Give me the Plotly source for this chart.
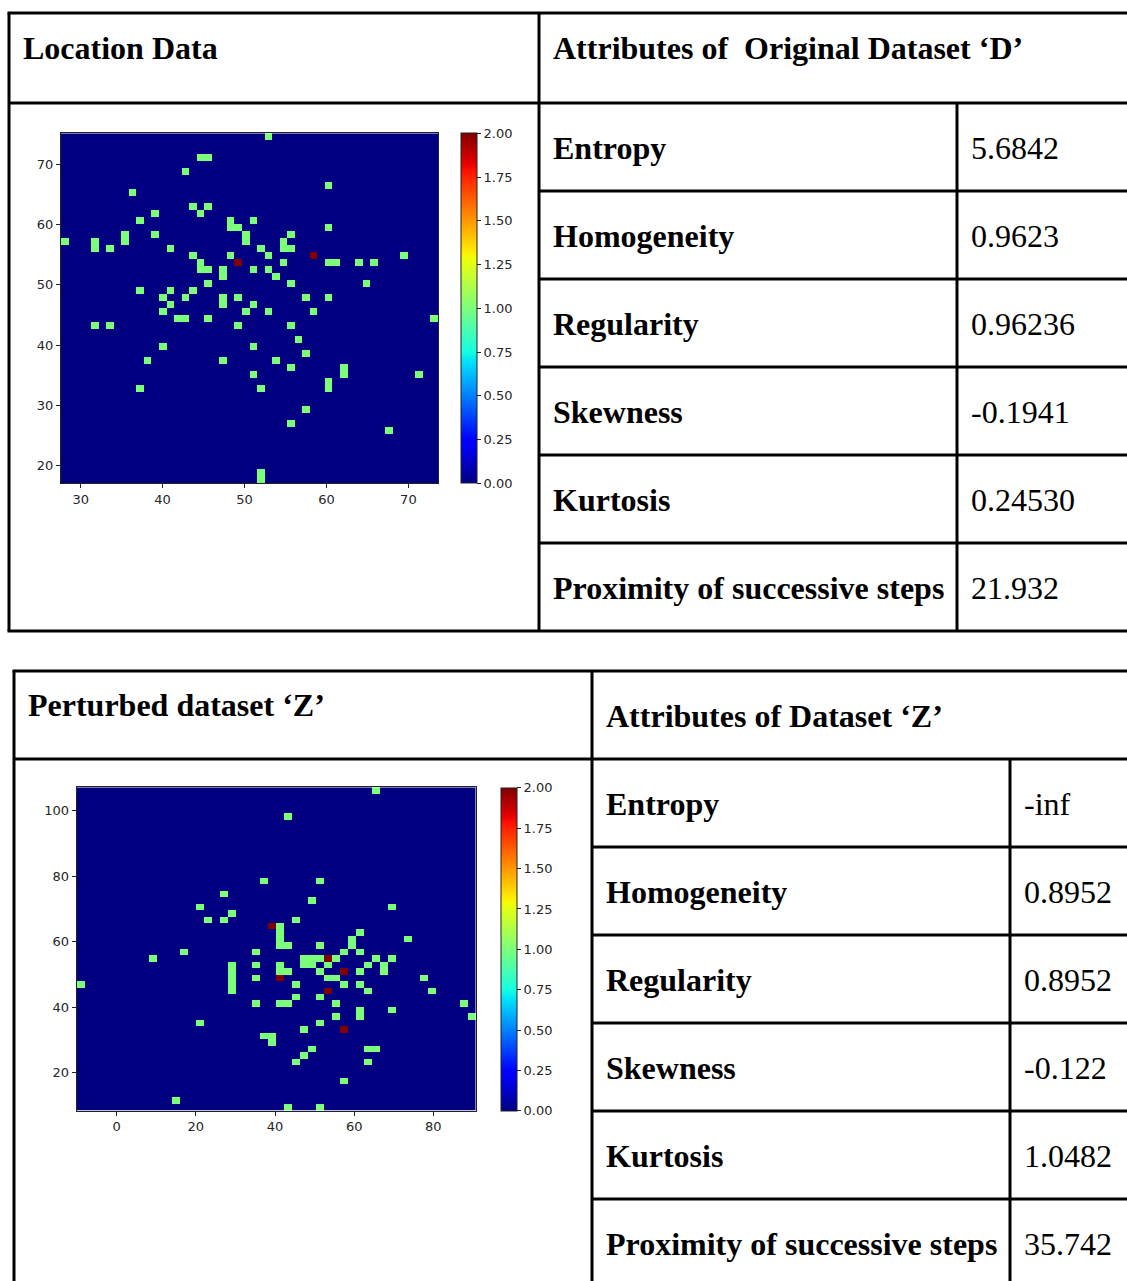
import numpy as np
import plotly.graph_objects as go

W, H = 1127, 1281

# ---------------- data ----------------
NBINS = 50
# original dataset D : histogram extent (x0, x1), (y0, y1)
D_xlim = (27.6, 73.65)
D_ylim = (17.07, 75.1)
# occupied bins: (column from left, row from top, count)
D_cells = [
    (27, 0, 1), (18, 3, 1), (19, 3, 1), (16, 5, 1), (35, 7, 1), (9, 8, 1),
    (17, 10, 1), (19, 10, 1), (18, 11, 1), (12, 11, 1),
    (10, 12, 1), (22, 12, 1), (25, 12, 1),
    (22, 13, 1), (23, 13, 1), (35, 13, 1),
    (24, 14, 1), (12, 14, 1), (8, 14, 1), (30, 14, 1),
    (24, 15, 1), (0, 15, 1), (8, 15, 1), (4, 15, 1), (29, 15, 1),
    (4, 16, 1), (6, 16, 1), (14, 16, 1), (29, 16, 1), (30, 16, 1), (26, 16, 1),
    (17, 17, 1), (22, 17, 1), (27, 17, 1), (33, 17, 2), (45, 17, 1),
    (23, 18, 2), (18, 18, 1), (29, 18, 1), (35, 18, 1), (36, 18, 1), (39, 18, 1), (41, 18, 1),
    (18, 19, 1), (19, 19, 1), (21, 19, 1), (25, 19, 1), (27, 19, 1),
    (21, 20, 1), (28, 20, 1),
    (19, 21, 1), (30, 21, 1), (40, 21, 1),
    (10, 22, 1), (14, 22, 1), (17, 22, 1),
    (13, 23, 1), (16, 23, 1), (21, 23, 1), (23, 23, 1), (32, 23, 1), (35, 23, 1),
    (14, 24, 1), (21, 24, 1), (25, 24, 1),
    (13, 25, 1), (24, 25, 1), (27, 25, 1), (33, 25, 1),
    (15, 26, 1), (16, 26, 1), (19, 26, 1), (49, 26, 1),
    (4, 27, 1), (6, 27, 1), (23, 27, 1), (30, 27, 1),
    (31, 29, 1), (13, 30, 1), (25, 30, 1), (32, 31, 1),
    (11, 32, 1), (21, 32, 1), (28, 32, 1),
    (30, 33, 1), (37, 33, 1), (37, 34, 1), (25, 34, 1), (47, 34, 1),
    (35, 35, 1), (35, 36, 1), (26, 36, 1), (10, 36, 1),
    (32, 39, 1), (30, 41, 1), (43, 42, 1), (26, 48, 1), (26, 49, 1),
]

# perturbed dataset Z
Z_xlim = (-10.1, 90.7)
Z_ylim = (8.35, 107.1)
Z_cells = [
    (37, 0, 1), (26, 4, 1), (23, 14, 1), (30, 14, 1), (18, 16, 1), (29, 17, 1),
    (15, 18, 1), (39, 18, 1), (19, 19, 1),
    (16, 20, 1), (18, 20, 1), (27, 20, 1),
    (24, 21, 2), (25, 21, 1), (25, 22, 1), (35, 22, 1),
    (25, 23, 1), (34, 23, 1), (41, 23, 1),
    (25, 24, 1), (26, 24, 1), (30, 24, 1), (34, 24, 1),
    (13, 25, 1), (22, 25, 1), (33, 25, 1), (35, 25, 1),
    (9, 26, 1), (28, 26, 1), (29, 26, 1), (30, 26, 1), (31, 26, 2), (32, 26, 1), (37, 26, 1), (39, 26, 1),
    (19, 27, 1), (19, 28, 1), (19, 29, 1), (19, 30, 1), (19, 31, 1),
    (22, 27, 1), (25, 27, 1), (28, 27, 1), (29, 27, 1), (31, 27, 1), (36, 27, 1), (38, 27, 1),
    (25, 28, 1), (26, 28, 1), (30, 28, 1), (33, 28, 2), (35, 28, 1), (38, 28, 1),
    (22, 29, 1), (25, 29, 2), (31, 29, 1), (32, 29, 1), (43, 29, 1),
    (0, 30, 1), (27, 30, 1), (33, 30, 1), (35, 30, 1),
    (31, 31, 2), (36, 31, 1), (44, 31, 1),
    (27, 32, 1), (30, 32, 1),
    (22, 33, 1), (25, 33, 1), (26, 33, 1), (32, 33, 1), (48, 33, 1),
    (35, 34, 1), (39, 34, 1), (35, 35, 1), (32, 35, 1), (49, 35, 1),
    (15, 36, 1), (30, 36, 1), (28, 37, 1), (33, 37, 2),
    (23, 38, 1), (24, 38, 1), (24, 39, 1),
    (29, 40, 1), (36, 40, 1), (37, 40, 1),
    (28, 41, 1), (27, 42, 1), (36, 42, 1), (33, 45, 1),
    (12, 48, 1), (26, 49, 1), (30, 49, 1),
]

D_x_ticks = [30, 40, 50, 60, 70]
D_y_ticks = [20, 30, 40, 50, 60, 70]
Z_x_ticks = [0, 20, 40, 60, 80]
Z_y_ticks = [20, 40, 60, 80, 100]
cbar_ticks = [0.0, 0.25, 0.5, 0.75, 1.0, 1.25, 1.5, 1.75, 2.0]

D_header_left = "Location Data"
D_header_right = "Attributes of \u00a0Original Dataset \u2018D\u2019"
Z_header_left = "Perturbed dataset \u2018Z\u2019"
Z_header_right = "Attributes of Dataset \u2018Z\u2019"
attr_names = ["Entropy", "Homogeneity", "Regularity", "Skewness", "Kurtosis",
              "Proximity of successive steps"]
D_values = ["5.6842", "0.9623", "0.96236", "-0.1941", "0.24530", "21.932"]
Z_values = ["-inf", "0.8952", "0.8952", "-0.122", "1.0482", "35.742"]


# ---------------- helpers ----------------
def px(x):
    return x / W


def py(y):
    return 1 - y / H


def jet_scale(n=65):
    t = np.linspace(0, 1, n)
    r = np.interp(t, [0, 0.35, 0.66, 0.89, 1], [0, 0, 1, 1, 0.5])
    g = np.interp(t, [0, 0.125, 0.375, 0.64, 0.91, 1], [0, 0, 1, 1, 0, 0])
    b = np.interp(t, [0, 0.11, 0.34, 0.65, 1], [0.5, 1, 1, 0, 0])
    return [[float(ti), f"rgb({int(round(ri*255))},{int(round(gi*255))},{int(round(bi*255))})"]
            for ti, ri, gi, bi in zip(t, r, g, b)]


JET = jet_scale()


def grid(cells, xlim, ylim):
    z = np.zeros((NBINS, NBINS))
    for c, r, v in cells:
        z[NBINS - 1 - r, c] = v
    dx = (xlim[1] - xlim[0]) / NBINS
    dy = (ylim[1] - ylim[0]) / NBINS
    xs = xlim[0] + dx * (np.arange(NBINS) + 0.5)
    ys = ylim[0] + dy * (np.arange(NBINS) + 0.5)
    return xs, ys, z


fig = go.Figure()

tickfont = dict(family="DejaVu Sans", size=13, color="#262626")


def add_map(cells, xlim, ylim, xa, ya, cb_x, cb_top, cb_bot, cb_w):
    xs, ys, z = grid(cells, xlim, ylim)
    fig.add_trace(go.Heatmap(
        x=xs, y=ys, z=z, zmin=0, zmax=2, colorscale=JET,
        xaxis=xa, yaxis=ya, hoverinfo="skip",
        colorbar=dict(
            x=px(cb_x), xanchor="left", xpad=0, ypad=0,
            y=py((cb_top + cb_bot) / 2), yanchor="middle",
            len=(cb_bot - cb_top) / H, lenmode="fraction",
            thickness=cb_w, outlinewidth=1, outlinecolor="#222",
            tickvals=cbar_ticks, ticktext=[f"{v:.2f}" for v in cbar_ticks],
            ticks="outside", ticklen=4, tickcolor="#222", tickfont=tickfont,
        ),
    ))


add_map(D_cells, D_xlim, D_ylim, "x", "y", 460.7, 133.3, 483.3, 15.5)
add_map(Z_cells, Z_xlim, Z_ylim, "x2", "y2", 500.7, 788.0, 1110.7, 16)

axis_style = dict(showline=True, mirror=True, linecolor="#222", linewidth=1,
                  ticks="outside", ticklen=4, tickcolor="#222", tickfont=tickfont,
                  showgrid=False, zeroline=False)

fig.update_layout(
    width=W, height=H, margin=dict(l=0, r=0, t=0, b=0),
    paper_bgcolor="white", plot_bgcolor="white", showlegend=False,
    xaxis=dict(domain=[px(61), px(438.3)], range=list(D_xlim), tickvals=D_x_ticks,
               anchor="y", **axis_style),
    yaxis=dict(domain=[py(483.3), py(133.3)], range=list(D_ylim), tickvals=D_y_ticks,
               anchor="x", **axis_style),
    xaxis2=dict(domain=[px(76.7), px(475.7)], range=list(Z_xlim), tickvals=Z_x_ticks,
                anchor="y2", **axis_style),
    yaxis2=dict(domain=[py(1110.7), py(787.3)], range=list(Z_ylim), tickvals=Z_y_ticks,
                anchor="x2", **axis_style),
)

# ---------------- tables ----------------
shapes = []


def hline(y, x0, x1):
    shapes.append(dict(type="line", xref="paper", yref="paper", x0=px(x0), x1=px(x1),
                       y0=py(y), y1=py(y), line=dict(color="black", width=3)))


def vline(x, y0, y1):
    shapes.append(dict(type="line", xref="paper", yref="paper", x0=px(x), x1=px(x),
                       y0=py(y0), y1=py(y1), line=dict(color="black", width=3)))


RIGHT = W + 10
# top table
t_top, t_head, t_bot = 13, 103, 631
t_left, t_mid, t_val = 9, 539, 957
hline(t_top, t_left - 1.5, RIGHT)
hline(t_head, t_left, RIGHT)
hline(t_bot, t_left - 1.5, RIGHT)
vline(t_left, t_top, t_bot)
vline(t_mid, t_top, t_bot)
vline(t_val, t_head, t_bot)
row_h = (t_bot - t_head) / 6
for i in range(1, 6):
    hline(t_head + i * row_h, t_mid, RIGHT)

# bottom table
b_top, b_head = 671, 759
b_left, b_mid, b_val = 14, 592, 1010
hline(b_top, b_left - 1.5, RIGHT)
hline(b_head, b_left, RIGHT)
vline(b_left, b_top, H + 10)
vline(b_mid, b_top, H + 10)
vline(b_val, b_head, H + 10)
for i in range(1, 6):
    hline(b_head + i * row_h, b_mid, RIGHT)

fig.update_layout(shapes=shapes)

annots = []
SERIF = "Liberation Serif"
FS = 32


def text(s, x, y, bold=True):
    annots.append(dict(text=(f"<b>{s}</b>" if bold else s), x=px(x - 2), y=py(y),
                       xref="paper", yref="paper", xanchor="left", yanchor="middle",
                       showarrow=False, font=dict(family=SERIF, size=FS, color="black")))


text(D_header_left, 23, 48)
text(D_header_right, 553, 48)
for i, (n, v) in enumerate(zip(attr_names, D_values)):
    yc = t_head + (i + 0.5) * row_h + 1
    text(n, 553, yc)
    text(v, 971, yc, bold=False)

text(Z_header_left, 28, 705)
text(Z_header_right, 606, 716)
for i, (n, v) in enumerate(zip(attr_names, Z_values)):
    yc = b_head + (i + 0.5) * row_h + 1
    text(n, 606, yc)
    text(v, 1024, yc, bold=False)

fig.update_layout(annotations=annots)

fig.write_html(
    "out.html",
    config={"displayModeBar": False},
    post_script="document.body.style.margin='0';document.body.style.overflow='hidden';",
)
